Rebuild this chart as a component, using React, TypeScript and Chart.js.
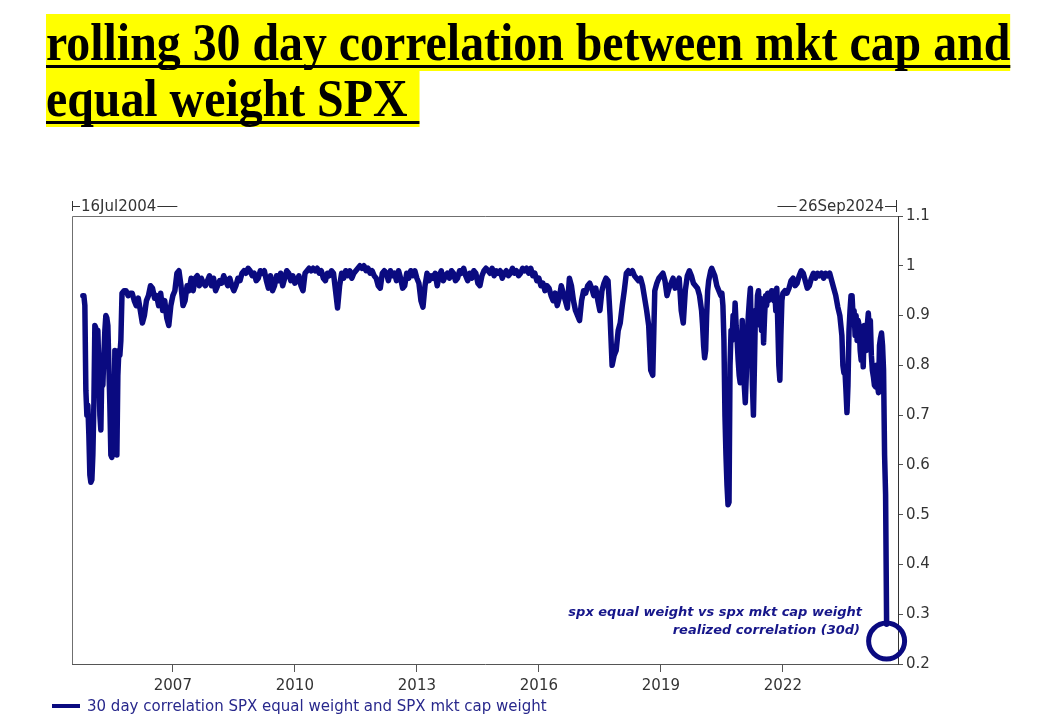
import React, { useEffect, useRef } from "react";
import { Chart, registerables } from "chart.js";

Chart.register(...registerables);

// ---- axis window & ticks ----
const windowStart = 2004.52; // 16 Jul 2004
const windowEnd = 2024.83;
const windowStartLabel = "16Jul2004";
const windowEndLabel = "26Sep2024";
const xTickYears = [2007, 2010, 2013, 2016, 2019, 2022];
const yMin = 0.2;
const yMax = 1.1;
const yStep = 0.1;

const seriesLabel = "30 day correlation SPX equal weight and SPX mkt cap weight";
const noteLines = ["spx equal weight vs spx mkt cap weight", "realized correlation (30d)"];
const circledValue = 0.246;

// ---- series (decimal-year sampling) ----
// Oct 2004 - Sep 2005 (≈9 day sampling)
const seg1Start = 2004.787;
const seg1Step = 0.02459;
const seg1Values = [
  0.94, 0.94, 0.92, 0.75, 0.7, 0.72, 0.66, 0.58, 0.565, 0.57,
  0.62, 0.72, 0.88, 0.875, 0.86, 0.87, 0.79, 0.7, 0.67, 0.79,
  0.76, 0.82, 0.87, 0.9, 0.895, 0.88, 0.8, 0.72, 0.62, 0.615,
  0.7, 0.64, 0.83, 0.7, 0.62, 0.78, 0.83, 0.82, 0.85,
];

// Oct 2005 - Jan 2020 (≈18 day sampling)
const seg2Start = 2005.75;
const seg2Step = 0.05;
const seg2Values = [
  0.945, 0.95, 0.95, 0.94, 0.945, 0.945, 0.93, 0.92, 0.935, 0.91, 0.885, 0.9, 0.93, 0.94, 0.96, 0.955, 0.935, 0.94, 0.92, 0.945,
  0.91, 0.93, 0.895, 0.88, 0.92, 0.94, 0.95, 0.985, 0.99, 0.96, 0.92, 0.93, 0.96, 0.95, 0.975, 0.95, 0.975, 0.98, 0.96, 0.975,
  0.965, 0.96, 0.97, 0.98, 0.96, 0.975, 0.95, 0.96, 0.97, 0.965, 0.98, 0.97, 0.96, 0.975, 0.96, 0.95, 0.96, 0.975, 0.97, 0.985,
  0.99, 0.985, 0.995, 0.99, 0.98, 0.985, 0.97, 0.975, 0.99, 0.985, 0.99, 0.97, 0.955, 0.98, 0.95, 0.96, 0.98, 0.97, 0.985, 0.96,
  0.975, 0.99, 0.985, 0.97, 0.98, 0.965, 0.97, 0.98, 0.96, 0.95, 0.985, 0.99, 0.995, 0.99, 0.995, 0.99, 0.995, 0.985, 0.99, 0.975,
  0.97, 0.985, 0.98, 0.99, 0.985, 0.95, 0.915, 0.96, 0.985, 0.975, 0.99, 0.98, 0.99, 0.975, 0.985, 0.99, 0.995, 1.0, 0.995, 1.0,
  0.99, 0.995, 0.985, 0.99, 0.98, 0.975, 0.96, 0.955, 0.985, 0.99, 0.985, 0.97, 0.99, 0.98, 0.985, 0.97, 0.99, 0.975, 0.955, 0.96,
  0.985, 0.975, 0.99, 0.98, 0.99, 0.975, 0.965, 0.93, 0.917, 0.96, 0.985, 0.97, 0.98, 0.975, 0.985, 0.96, 0.98, 0.99, 0.97, 0.98,
  0.985, 0.975, 0.99, 0.985, 0.97, 0.975, 0.99, 0.985, 0.995, 0.98, 0.97, 0.985, 0.975, 0.99, 0.985, 0.965, 0.96, 0.98, 0.99, 0.995,
  0.99, 0.985, 0.995, 0.98, 0.99, 0.985, 0.99, 0.975, 0.985, 0.99, 0.98, 0.985, 0.995, 0.985, 0.99, 0.98, 0.985, 0.995, 0.99, 0.995,
  0.985, 0.995, 0.98, 0.985, 0.97, 0.975, 0.96, 0.965, 0.95, 0.96, 0.955, 0.94, 0.93, 0.945, 0.92, 0.935, 0.96, 0.945, 0.93, 0.915,
  0.975, 0.96, 0.93, 0.91, 0.9, 0.89, 0.93, 0.95, 0.945, 0.96, 0.965, 0.955, 0.94, 0.955, 0.93, 0.91, 0.95, 0.965, 0.975, 0.97,
  0.9, 0.8, 0.82, 0.83, 0.87, 0.885, 0.92, 0.95, 0.985, 0.99, 0.985, 0.99, 0.98, 0.975, 0.97, 0.975, 0.96, 0.935, 0.91, 0.88,
  0.79, 0.78, 0.95, 0.965, 0.975, 0.98, 0.985, 0.97, 0.94, 0.955, 0.965, 0.975, 0.955, 0.965, 0.975, 0.91, 0.885, 0.95, 0.98, 0.99,
  0.98, 0.965, 0.96, 0.955, 0.94, 0.91,
];

// Jan 2020 - Jan 2022 (≈9 day sampling)
const seg3Start = 2020.025;
const seg3Step = 0.025;
const seg3Values = [
  0.88, 0.84, 0.815, 0.83, 0.9, 0.95, 0.97, 0.98, 0.99, 0.995,
  0.99, 0.985, 0.98, 0.97, 0.96, 0.955, 0.95, 0.945, 0.94, 0.945,
  0.92, 0.85, 0.7, 0.62, 0.56, 0.52, 0.525, 0.8, 0.87, 0.85,
  0.9, 0.87, 0.925, 0.88, 0.85, 0.81, 0.78, 0.765, 0.8, 0.89,
  0.82, 0.76, 0.725, 0.78, 0.86, 0.9, 0.93, 0.955, 0.85, 0.76,
  0.7, 0.8, 0.91, 0.88, 0.94, 0.95, 0.9, 0.935, 0.87, 0.93,
  0.845, 0.9, 0.94, 0.92, 0.945, 0.93, 0.945, 0.94, 0.95, 0.935,
  0.93, 0.95, 0.91, 0.955, 0.88, 0.8, 0.77, 0.86, 0.93, 0.945,
];

// Jan 2022 - May 2023 (≈18 day sampling)
const seg4Start = 2022.05;
const seg4Step = 0.05;
const seg4Values = [
  0.95, 0.945, 0.955, 0.97, 0.975, 0.96, 0.965, 0.98, 0.99, 0.985,
  0.97, 0.955, 0.96, 0.975, 0.985, 0.975, 0.985, 0.98, 0.985, 0.975,
  0.985, 0.98, 0.985, 0.97, 0.955, 0.94, 0.917, 0.9,
];

// Jun 2023 - Jul 2024 (≈9 day sampling)
const seg5Start = 2023.425;
const seg5Step = 0.025;
const seg5Values = [
  0.88, 0.86, 0.8, 0.785, 0.79, 0.75, 0.705, 0.76, 0.87, 0.91,
  0.94, 0.94, 0.9, 0.91, 0.86, 0.9, 0.85, 0.89, 0.88, 0.83,
  0.81, 0.84, 0.797, 0.88, 0.86, 0.83, 0.88, 0.905, 0.87, 0.89,
  0.82, 0.79, 0.777, 0.76, 0.757, 0.8, 0.76, 0.745, 0.84, 0.855,
  0.865, 0.84, 0.79, 0.62, 0.54, 0.28,
];

const navy = "#0a0a80";
const axisText = "#333333";
const axisLine = "#555555";
const fontFamily = '"DejaVu Sans", Verdana, sans-serif';

function segment(start: number, step: number, values: number[]) {
  return values.map((v, i) => ({ x: start + i * step, y: v }));
}

const points = [
  ...segment(seg1Start, seg1Step, seg1Values),
  ...segment(seg2Start, seg2Step, seg2Values),
  ...segment(seg3Start, seg3Step, seg3Values),
  ...segment(seg4Start, seg4Step, seg4Values),
  ...segment(seg5Start, seg5Step, seg5Values),
];

const decorPlugin = {
  id: "decor",
  afterDraw(chart: any) {
    const { ctx, chartArea, scales } = chart;
    const { left, top, right, bottom } = chartArea;
    ctx.save();

    // frame (left + top)
    ctx.strokeStyle = "#6f6f6f";
    ctx.lineWidth = 1;
    ctx.beginPath();
    ctx.moveTo(left + 0.5, bottom);
    ctx.lineTo(left + 0.5, top + 0.5);
    ctx.lineTo(right, top + 0.5);
    ctx.stroke();

    // window labels above the frame
    const ly = top - 10;
    ctx.font = `15px ${fontFamily}`;
    ctx.fillStyle = axisText;
    ctx.strokeStyle = axisText;
    ctx.textBaseline = "middle";
    ctx.textAlign = "left";
    const w1 = ctx.measureText(windowStartLabel).width;
    const w2 = ctx.measureText(windowEndLabel).width;
    ctx.beginPath();
    ctx.moveTo(left + 0.5, ly - 5);
    ctx.lineTo(left + 0.5, ly + 5);
    ctx.moveTo(left, ly + 0.5);
    ctx.lineTo(left + 8, ly + 0.5);
    ctx.moveTo(left + 9 + w1 + 1, ly + 0.5);
    ctx.lineTo(left + 9 + w1 + 21, ly + 0.5);
    const t2 = right - 14 - w2;
    ctx.moveTo(t2 - 21, ly + 0.5);
    ctx.lineTo(t2 - 2, ly + 0.5);
    ctx.moveTo(t2 + w2 + 1, ly + 0.5);
    ctx.lineTo(right - 1, ly + 0.5);
    ctx.moveTo(right - 1.5, ly - 6);
    ctx.lineTo(right - 1.5, ly + 6);
    ctx.stroke();
    ctx.fillText(windowStartLabel, left + 9, ly + 1);
    ctx.fillText(windowEndLabel, t2, ly + 1);

    // annotation text
    ctx.font = `italic bold 13px ${fontFamily}`;
    ctx.fillStyle = "#16168a";
    ctx.textAlign = "right";
    ctx.fillText(noteLines[0], right - 36, bottom - 51);
    ctx.fillText(noteLines[1], right - 38, bottom - 33);

    // circle around last point
    const last = points[points.length - 1];
    const cx = scales.x.getPixelForValue(last.x);
    const cy = scales.y.getPixelForValue(circledValue);
    ctx.strokeStyle = navy;
    ctx.lineWidth = 5;
    ctx.beginPath();
    ctx.arc(cx, cy, 18, 0, Math.PI * 2);
    ctx.stroke();

    // legend
    ctx.lineWidth = 4;
    ctx.beginPath();
    ctx.moveTo(52, 706);
    ctx.lineTo(80, 706);
    ctx.stroke();
    ctx.font = `15px ${fontFamily}`;
    ctx.fillStyle = "#28288c";
    ctx.textAlign = "left";
    ctx.fillText(seriesLabel, 87, 707);

    ctx.restore();
  },
};

function CorrelationChart() {
  const ref = useRef<HTMLCanvasElement | null>(null);
  useEffect(() => {
    if (!ref.current) return;
    const chart = new Chart(ref.current, {
      type: "line",
      data: {
        datasets: [
          {
            label: seriesLabel,
            data: points,
            borderColor: navy,
            backgroundColor: navy,
            borderWidth: 5.5,
            pointRadius: 0,
            tension: 0,
            borderJoinStyle: "round",
            borderCapStyle: "round",
            fill: false,
          },
        ],
      },
      options: {
        animation: false,
        responsive: false,
        maintainAspectRatio: false,
        layout: { padding: { left: 72, top: 216, right: 0, bottom: 0 } },
        plugins: {
          legend: { display: false },
          tooltip: { enabled: false },
        },
        scales: {
          x: {
            type: "linear",
            min: windowStart,
            max: windowEnd,
            afterBuildTicks: (scale: any) => {
              scale.ticks = xTickYears.map((v) => ({ value: v }));
            },
            afterFit: (scale: any) => {
              scale.height = 60;
            },
            grid: {
              display: true,
              drawOnChartArea: false,
              drawTicks: true,
              tickLength: 8,
              tickColor: axisLine,
            },
            border: { display: true, color: axisLine, width: 1 },
            ticks: {
              autoSkip: false,
              maxRotation: 0,
              padding: 5,
              color: axisText,
              font: { family: fontFamily, size: 15 },
              callback: (v: any) => String(v),
            },
          },
          y: {
            type: "linear",
            position: "right",
            min: yMin,
            max: yMax,
            afterFit: (scale: any) => {
              scale.width = 140;
            },
            grid: {
              display: true,
              drawOnChartArea: false,
              drawTicks: true,
              tickLength: 5,
              tickColor: axisLine,
            },
            border: { display: true, color: "#333333", width: 1 },
            ticks: {
              stepSize: yStep,
              padding: 3,
              color: axisText,
              font: { family: fontFamily, size: 15 },
              callback: (v: any) => String(Math.round(Number(v) * 10) / 10),
            },
          },
        },
      },
      plugins: [decorPlugin],
    });
    return () => chart.destroy();
  }, []);
  return <canvas ref={ref} width={1038} height={724} style={{ display: "block", width: 1038, height: 724 }} />;
}

const highlight: React.CSSProperties = {
  background: "#ffff00",
  textDecoration: "underline",
  textDecorationThickness: "3px",
  textUnderlineOffset: "5px",
  textDecorationSkipInk: "none" as any,
};

export default function App() {
  return (
    <div style={{ position: "absolute", left: 0, top: 0, width: 1038, height: 724, overflow: "hidden", background: "#fff" }}>
      <div style={{ position: "absolute", left: 0, top: 0 }}>
        <CorrelationChart />
      </div>
      <div
        style={{
          position: "absolute",
          left: 46,
          top: 15,
          fontFamily: '"Liberation Serif", "Times New Roman", serif',
          fontWeight: "bold",
          fontSize: 52,
          lineHeight: "56px",
          color: "#000",
          whiteSpace: "nowrap",
          transform: "scaleX(0.92)",
          transformOrigin: "left top",
        }}
      >
        <span style={highlight}>rolling 30 day correlation between mkt cap and</span>
        <br />
        <span style={highlight}>equal weight SPX&nbsp;</span>
      </div>
    </div>
  );
}
